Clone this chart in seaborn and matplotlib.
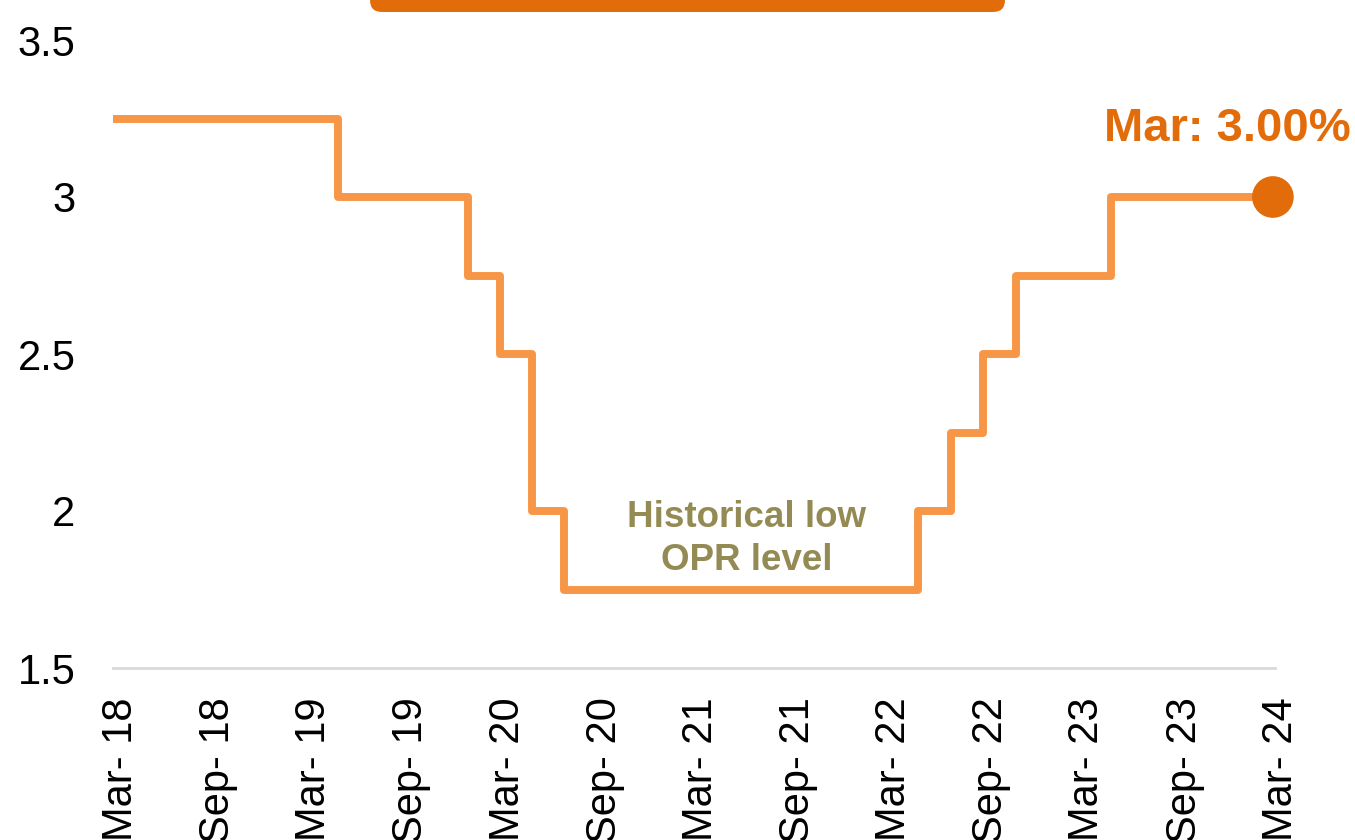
import pandas as pd
import matplotlib.pyplot as plt
import matplotlib.transforms as mtransforms
from matplotlib.patches import FancyBboxPatch
import seaborn as sns

# OPR decision months and the rate that applied from then on
change_months = ['2018-03', '2019-05', '2020-01', '2020-03', '2020-05', '2020-07',
                 '2022-05', '2022-07', '2022-09', '2022-11', '2023-05', '2024-03']
opr_rates = [3.25, 3.00, 2.75, 2.50, 2.00, 1.75, 2.00, 2.25, 2.50, 2.75, 3.00, 3.00]

tick_months = ['2018-03', '2018-09', '2019-03', '2019-09', '2020-03', '2020-09', '2021-03',
               '2021-09', '2022-03', '2022-09', '2023-03', '2023-09', '2024-03']
tick_labels = ['Mar- 18', 'Sep- 18', 'Mar- 19', 'Sep- 19', 'Mar- 20', 'Sep- 20', 'Mar- 21',
               'Sep- 21', 'Mar- 22', 'Sep- 22', 'Mar- 23', 'Sep- 23', 'Mar- 24']
y_ticks = [1.5, 2, 2.5, 3, 3.5]
y_tick_labels = ['1.5', '2', '2.5', '3', '3.5']

df = pd.DataFrame({'date': pd.to_datetime(change_months), 'opr': opr_rates})

sns.set_theme(style='white')
plt.rcParams['font.family'] = ['Liberation Sans', 'DejaVu Sans']

line_col = '#F79646'
dark_orange = '#E36C0A'

fig = plt.figure(figsize=(13.55, 8.4), dpi=100)
ax = fig.add_axes([113 / 1355, 172 / 840, (1275 - 113) / 1355, (668 - 40) / 840])

sns.lineplot(data=df, x='date', y='opr', ax=ax, color=line_col, linewidth=5.7,
             drawstyle='steps-post', solid_joinstyle='round', solid_capstyle='butt')
last = df.iloc[-1]
ax.scatter([last['date']], [last['opr']], s=900, color=dark_orange, zorder=5,
           edgecolors='none', clip_on=False)

ax.set_xlim(pd.Timestamp('2018-03-01'), pd.Timestamp('2024-03-05'))
ax.set_ylim(1.5, 3.5)
ax.set_xlabel('')
ax.set_ylabel('')

ax.set_yticks(y_ticks)
ax.set_yticklabels(y_tick_labels, fontsize=30, color='black')
ax.set_xticks(pd.to_datetime(tick_months))
ax.set_xticklabels(tick_labels, rotation=90, fontsize=30, color='black', va='top')
ax.tick_params(axis='y', length=0, pad=27)
ax.tick_params(axis='x', length=0, pad=21)
# shift x labels a bit to the right like the original
shift = mtransforms.ScaledTranslation(8 / 100, 0, fig.dpi_scale_trans)
for lab in ax.get_xticklabels():
    lab.set_transform(lab.get_transform() + shift)

for side in ['top', 'right', 'left']:
    ax.spines[side].set_visible(False)
ax.spines['bottom'].set_color('#D9D9D9')
ax.spines['bottom'].set_linewidth(2)

ax.annotate('Mar: 3.00%', xy=(last['date'], last['opr']), xytext=(56, 49),
            textcoords='offset points', ha='right', va='center',
            fontsize=34, fontweight='bold', color=dark_orange, annotation_clip=False)
ax.text(pd.Timestamp('2021-06-10'), 1.91, 'Historical low\nOPR level', ha='center',
        va='center', fontsize=26.5, fontweight='bold', color='#948A54', linespacing=1.3)

# top banner (cut off in the original)
banner = FancyBboxPatch((3.70, 8.28), 6.35, 1.0, boxstyle='round,pad=0,rounding_size=0.12',
                        transform=fig.dpi_scale_trans, facecolor=dark_orange,
                        edgecolor='none', clip_on=False)
fig.add_artist(banner)

fig.savefig('out.png', dpi=100)
